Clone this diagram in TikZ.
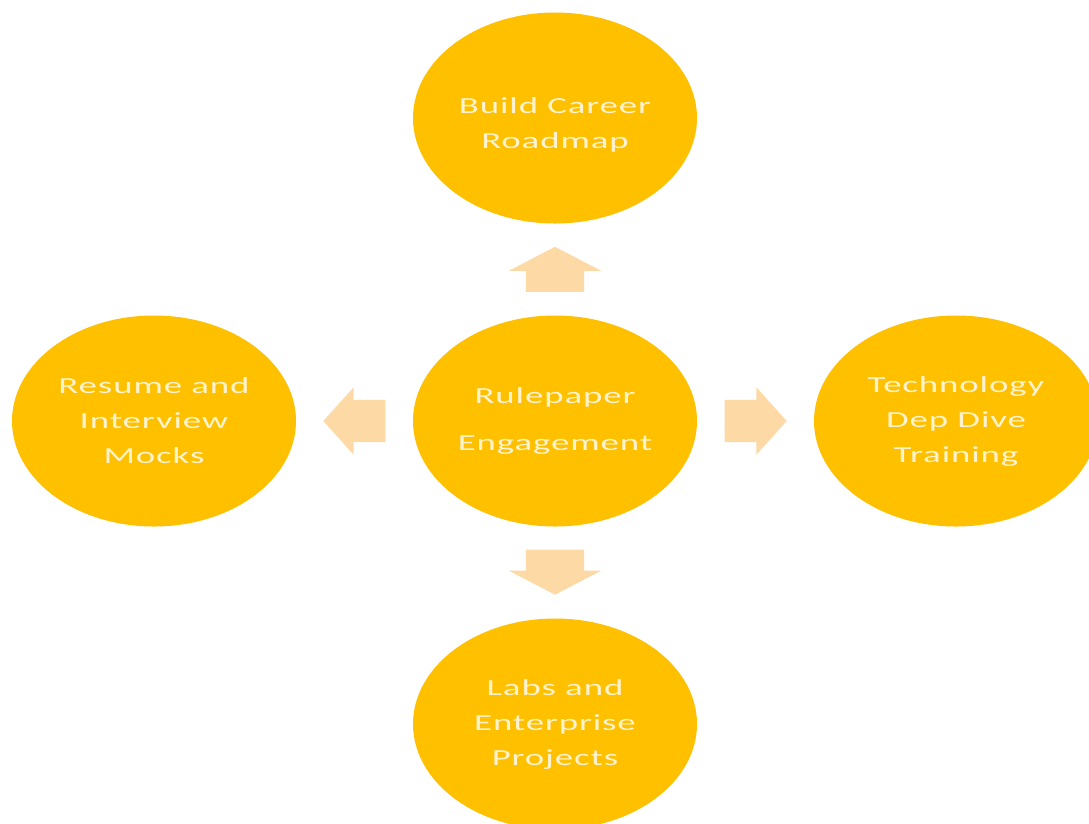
\documentclass[tikz,border=0pt]{standalone}
\usepackage{fontspec}
\setmainfont[FakeStretch=1.6,LetterSpace=4]{Carlito}
\usetikzlibrary{shapes.geometric,shapes.arrows,calc}
\definecolor{gold}{HTML}{FFC000}
\definecolor{peach}{HTML}{FDD9A6}
\definecolor{cream}{HTML}{FFF3CF}

\begin{document}
\begin{tikzpicture}[x=1pt,y=-1pt,
    bubble/.style={ellipse,fill=gold,minimum width=284pt,minimum height=211pt,
      inner sep=0pt,text=cream,align=center,font=\fontsize{23}{35}\selectfont},
    vblock/.style={single arrow,fill=peach,anchor=tail,inner xsep=0pt,inner ysep=29pt,
      minimum height=45pt,single arrow head extend=17pt,single arrow tip angle=125},
    hblock/.style={single arrow,fill=peach,anchor=tail,inner xsep=0pt,inner ysep=21pt,
      minimum height=62pt,single arrow head extend=12.5pt,single arrow tip angle=96}]
    \useasboundingbox[fill=white] (0,0) rectangle (1089,823);
    % the five bubbles
    \node[bubble] (hub) at (555,421) {Rulepaper\\[12pt]Engagement};
    \node[bubble,text height=64pt] (roadmap) at (555,118) {Build Career\\Roadmap};
    \node[bubble] (mocks) at (154,421) {Resume and\\Interview\\Mocks};
    \node[bubble] (deepdive) at (956,421) {Technology\\Dep Dive\\Training};
    \node[bubble] (projects) at (555,724) {Labs and\\Enterprise\\Projects};
    % block arrows between them
    \node[vblock,rotate=90] (toroadmap) at ($(hub)!0.5!(roadmap)+(0,22.5)$) {};
    \node[vblock,rotate=-90] (toprojects) at ($(hub)!0.5!(projects)+(0,-23)$) {};
    \node[hblock,rotate=180] (tomocks) at ($(hub)!0.5!(mocks)+(31,0)$) {};
    \node[hblock] (todeepdive) at ($(hub)!0.5!(deepdive)+(-31,0)$) {};
\end{tikzpicture}
\end{document}
